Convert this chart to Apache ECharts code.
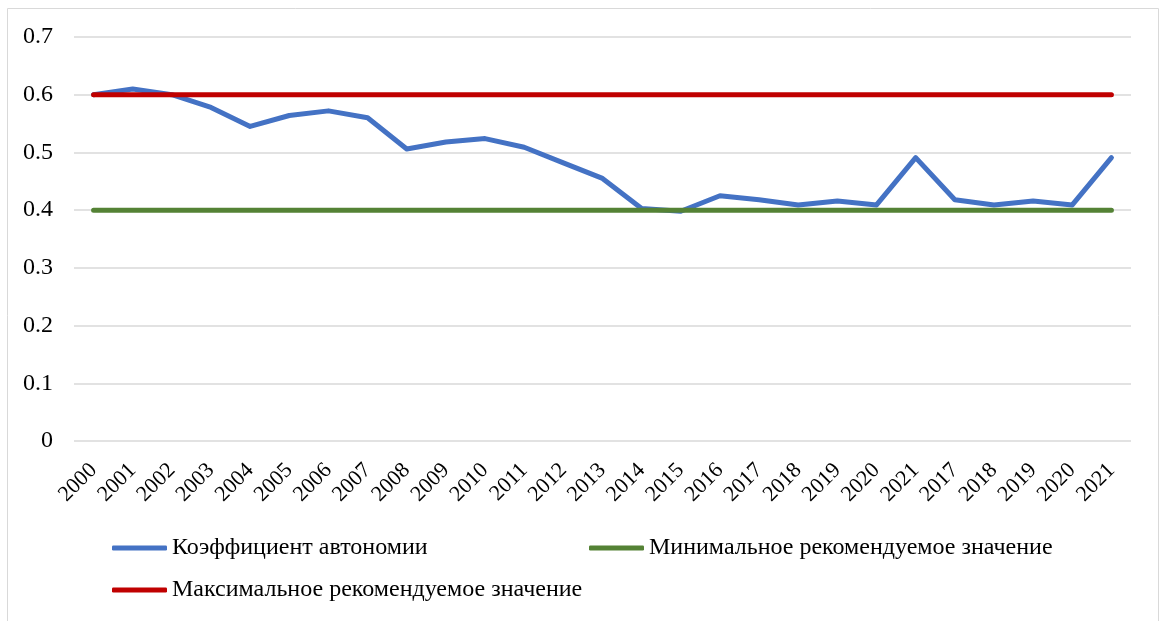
<!DOCTYPE html>
<html>
<head>
    <meta charset="utf-8">
    <title>Коэффициент автономии</title>
    <script src="https://cdn.jsdelivr.net/npm/echarts@6/dist/echarts.min.js"></script>
    <style>
        html, body { margin: 0; padding: 0; background: #fff; }
        #chart1 { width: 1160px; height: 621px; }
    </style>
</head>
<body>
<div id="chart1"></div>
<script type="text/javascript">
    // годы (в исходнике 2017-2021 повторяются)
    var years = ['2000', '2001', '2002', '2003', '2004', '2005', '2006', '2007', '2008', '2009',
        '2010', '2011', '2012', '2013', '2014', '2015', '2016', '2017', '2018', '2019',
        '2020', '2021', '2017', '2018', '2019', '2020', '2021'];
    // коэффициент автономии
    var autonomy = [0.60, 0.61, 0.60, 0.578, 0.545, 0.564, 0.572, 0.560, 0.506, 0.518,
        0.524, 0.509, 0.482, 0.455, 0.403, 0.398, 0.425, 0.418, 0.409, 0.416,
        0.409, 0.491, 0.418, 0.409, 0.416, 0.409, 0.491];
    // рекомендуемые границы
    var minRec = [0.4, 0.4, 0.4, 0.4, 0.4, 0.4, 0.4, 0.4, 0.4, 0.4, 0.4, 0.4, 0.4, 0.4,
        0.4, 0.4, 0.4, 0.4, 0.4, 0.4, 0.4, 0.4, 0.4, 0.4, 0.4, 0.4, 0.4];
    var maxRec = [0.6, 0.6, 0.6, 0.6, 0.6, 0.6, 0.6, 0.6, 0.6, 0.6, 0.6, 0.6, 0.6, 0.6,
        0.6, 0.6, 0.6, 0.6, 0.6, 0.6, 0.6, 0.6, 0.6, 0.6, 0.6, 0.6, 0.6];

    var nameA = 'Коэффициент автономии';
    var nameMin = 'Минимальное рекомендуемое значение';
    var nameMax = 'Максимальное рекомендуемое значение';

    var font = '"Liberation Serif", "Times New Roman", serif';
    var legendText = { fontFamily: font, fontSize: 24, color: '#000' };

    var myChart1 = echarts.init(document.getElementById('chart1'));
    myChart1.setOption({
        animation: false,
        graphic: [{
            type: 'rect',
            shape: { x: 7.5, y: 8.5, width: 1151, height: 700 },
            style: { fill: 'none', stroke: '#d9d9d9', lineWidth: 1 },
            silent: true
        }],
        grid: { left: 74, right: 29, top: 37, bottom: 180 },
        legend: [
            { data: [nameA], left: 112, top: 536, padding: 0, itemWidth: 55, itemHeight: 5, icon: 'roundRect', textStyle: legendText },
            { data: [nameMin], left: 589, top: 536, padding: 0, itemWidth: 55, itemHeight: 5, icon: 'roundRect', textStyle: legendText },
            { data: [nameMax], left: 112, top: 578, padding: 0, itemWidth: 55, itemHeight: 5, icon: 'roundRect', textStyle: legendText }
        ],
        xAxis: {
            type: 'category',
            data: years,
            boundaryGap: true,
            axisLine: { show: false },
            axisTick: { show: false },
            axisLabel: {
                interval: 0,
                rotate: 45,
                margin: 26,
                fontFamily: font,
                fontSize: 22,
                color: '#000'
            }
        },
        yAxis: {
            type: 'value',
            min: 0,
            max: 0.7,
            interval: 0.1,
            axisLine: { show: false },
            axisTick: { show: false },
            splitLine: { lineStyle: { color: '#d9d9d9', width: 1.5 } },
            axisLabel: {
                margin: 21,
                fontFamily: font,
                fontSize: 24,
                color: '#000',
                formatter: function (v) { return v === 0 ? '0' : v.toFixed(1); }
            }
        },
        series: [
            {
                name: nameA, type: 'line', data: autonomy, symbol: 'none',
                itemStyle: { color: '#4472c4' },
                lineStyle: { color: '#4472c4', width: 5, cap: 'round', join: 'round' }
            },
            {
                name: nameMin, type: 'line', data: minRec, symbol: 'none',
                itemStyle: { color: '#548235' },
                lineStyle: { color: '#548235', width: 5, cap: 'round' }
            },
            {
                name: nameMax, type: 'line', data: maxRec, symbol: 'none',
                itemStyle: { color: '#c00000' },
                lineStyle: { color: '#c00000', width: 5, cap: 'round' }
            }
        ]
    });
</script>
</body>
</html>
